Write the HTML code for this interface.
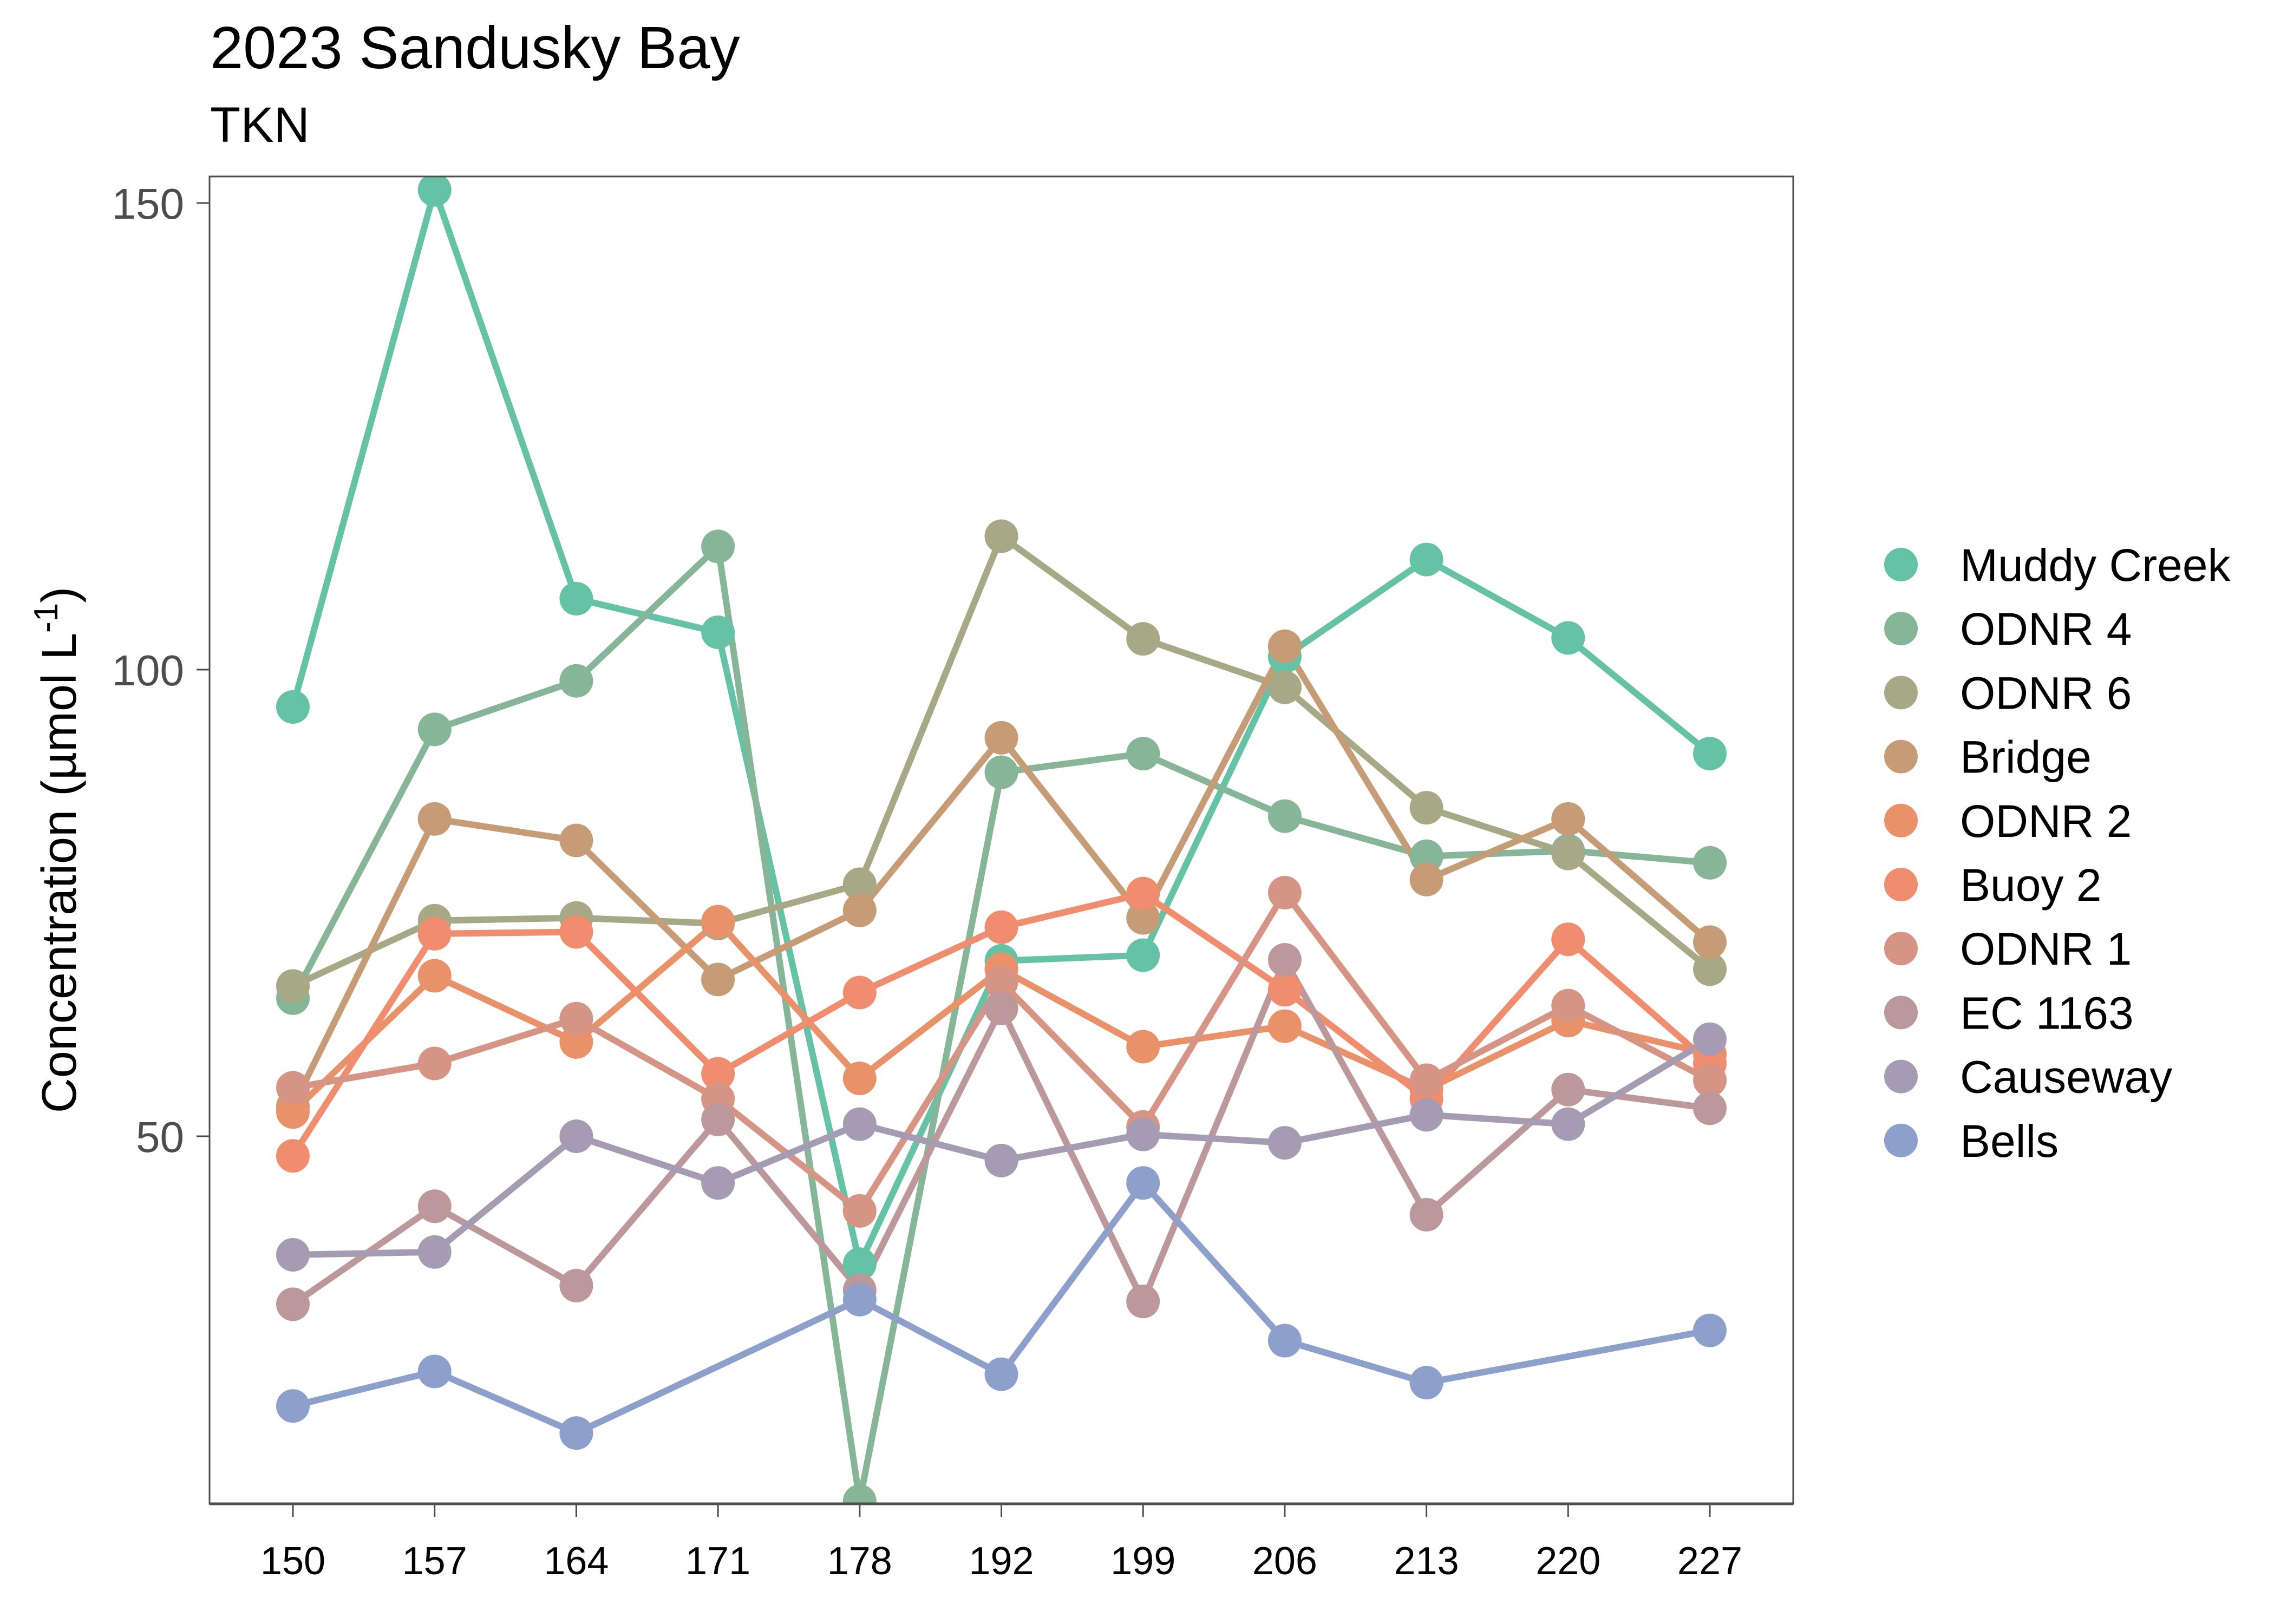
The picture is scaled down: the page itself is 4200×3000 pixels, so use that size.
<!DOCTYPE html>
<html><head><meta charset="utf-8"><style>
html,body{margin:0;padding:0;background:#fff;}
svg{display:block;font-family:"Liberation Sans",Arial,sans-serif;}
</style></head><body>
<svg id="chart" width="4200" height="3000" viewBox="0 0 4200 3000" xmlns="http://www.w3.org/2000/svg">
<rect width="4200" height="3000" fill="#fff"/>
<text x="388" y="126" font-size="110" fill="#000">2023 Sandusky Bay</text>
<text x="388" y="262" font-size="92" fill="#000">TKN</text>
<text transform="translate(140,1570) rotate(-90)" text-anchor="middle" font-size="90" fill="#000">Concentration (µmol L<tspan dy="-34" font-size="62">-1</tspan><tspan dy="34">)</tspan></text>
<g id="plot"></g>
<g id="legend"></g>
</svg>
<script>
const categories = ["150","157","164","171","178","192","199","206","213","220","227"];
const seriesNames = ["Muddy Creek","ODNR 4","ODNR 6","Bridge","ODNR 2","Buoy 2","ODNR 1","EC 1163","Causeway","Bells"];
const seriesColors = ["#66c2a5","#87b597","#a6a886","#c69c77","#e9926a","#ef8d6e","#d69484","#bd989b","#a59cb3","#8da0cb"];
const muddyCreek = [96.0,151.4,107.6,104.0,36.3,68.8,69.4,101.4,111.8,103.4,91.0];
const odnr4 = [64.8,93.6,98.8,113.2,10.9,89.0,91.0,84.3,80.0,80.6,79.3];
const odnr6 = [66.1,73.1,73.4,72.8,77.0,114.3,103.3,98.1,85.2,80.3,67.9];
const bridge = [53.2,84.0,81.7,66.8,74.2,92.7,73.4,102.5,77.5,84.0,70.8];
const odnr2 = [52.6,67.2,60.1,73.0,56.2,67.9,59.6,61.8,55.0,62.4,58.8];
const buoy2 = [47.9,71.7,71.9,56.7,65.4,72.4,76.0,65.7,54.0,71.1,57.8];
const odnr1 = [55.2,57.8,62.6,54.0,42.0,66.5,51.0,76.1,56.0,64.0,56.0];
const ec1163 = [32.0,42.5,34.0,51.8,33.5,63.7,32.3,68.9,41.6,55.0,53.0];
const causeway = [37.3,37.6,50.0,45.0,51.3,47.4,50.2,49.3,52.3,51.3,60.4];
const bells = [21.1,24.8,18.2,null,32.5,24.5,45.0,28.1,23.6,null,29.2];
const yTicks = [50,100,150];

const allSeries = [muddyCreek,odnr4,odnr6,bridge,odnr2,buoy2,odnr1,ec1163,causeway,bells];
const NS="http://www.w3.org/2000/svg";
const PL=387, PR=3312, PT=326, PB=2778;
const X0=541, XSTEP=261.7;
function xPos(i){return X0+i*XSTEP;}
function yPos(v){return 375+(150-v)*17.24;}
function mk(tag,attrs,parent){const e=document.createElementNS(NS,tag);for(const k in attrs)e.setAttribute(k,attrs[k]);parent.appendChild(e);return e;}
const plot=document.getElementById('plot');
const defs=mk('defs',{},plot);
const cp=mk('clipPath',{id:'clip'},defs);
mk('rect',{x:PL,y:PT,width:PR-PL,height:PB-PT},cp);
const data=mk('g',{'clip-path':'url(#clip)'},plot);


allSeries.forEach((s,si)=>{
  const pts=[];
  s.forEach((v,i)=>{if(v!==null)pts.push(xPos(i)+','+yPos(v));});
  const pl=mk('polyline',{points:pts.join(' '),fill:'none',stroke:seriesColors[si],'stroke-width':12,'stroke-linejoin':'round','stroke-linecap':'butt'},data);
  
  
});
allSeries.forEach((s,si)=>{
  s.forEach((v,i)=>{
    if(v===null)return;
    const c=mk('circle',{cx:xPos(i),cy:yPos(v),r:31,fill:seriesColors[si]},data);
    
    
  });
});
const border=mk('rect',{x:PL,y:PT,width:PR-PL,height:PB-PT,fill:'none',stroke:'#4d4d4d','stroke-width':3},plot);


const xl=mk('line',{x1:PL,x2:PR,y1:PB,y2:PB,stroke:'#4d4d4d','stroke-width':5},plot);


categories.forEach((c,i)=>{
  const t=mk('line',{x1:xPos(i),x2:xPos(i),y1:PB,y2:PB+24,stroke:'#4d4d4d','stroke-width':3},plot);
  
  
  const tx=mk('text',{x:xPos(i),y:2908,'text-anchor':'middle','font-size':72,fill:'#000'},plot);
  tx.textContent=c;
  
  
});
yTicks.forEach(v=>{
  const t=mk('line',{x1:PL-24,x2:PL,y1:yPos(v),y2:yPos(v),stroke:'#4d4d4d','stroke-width':3},plot);
  
  
  const tx=mk('text',{x:340,y:yPos(v)+29,'text-anchor':'end','font-size':80,fill:'#4d4d4d'},plot);
  tx.textContent=v;
  
  
});
const lg=document.getElementById('legend');
seriesNames.forEach((n,i)=>{
  const y=1043+i*118.2;
  const g=mk('g',{},lg);
  
  
  const c=mk('circle',{cx:3511,cy:y,r:31,fill:seriesColors[i]},g);
  
  
  const t=mk('text',{x:3620,y:y+30,'font-size':84,fill:'#000'},g);
  t.textContent=n;
  
  
});
</script>
</body></html>
